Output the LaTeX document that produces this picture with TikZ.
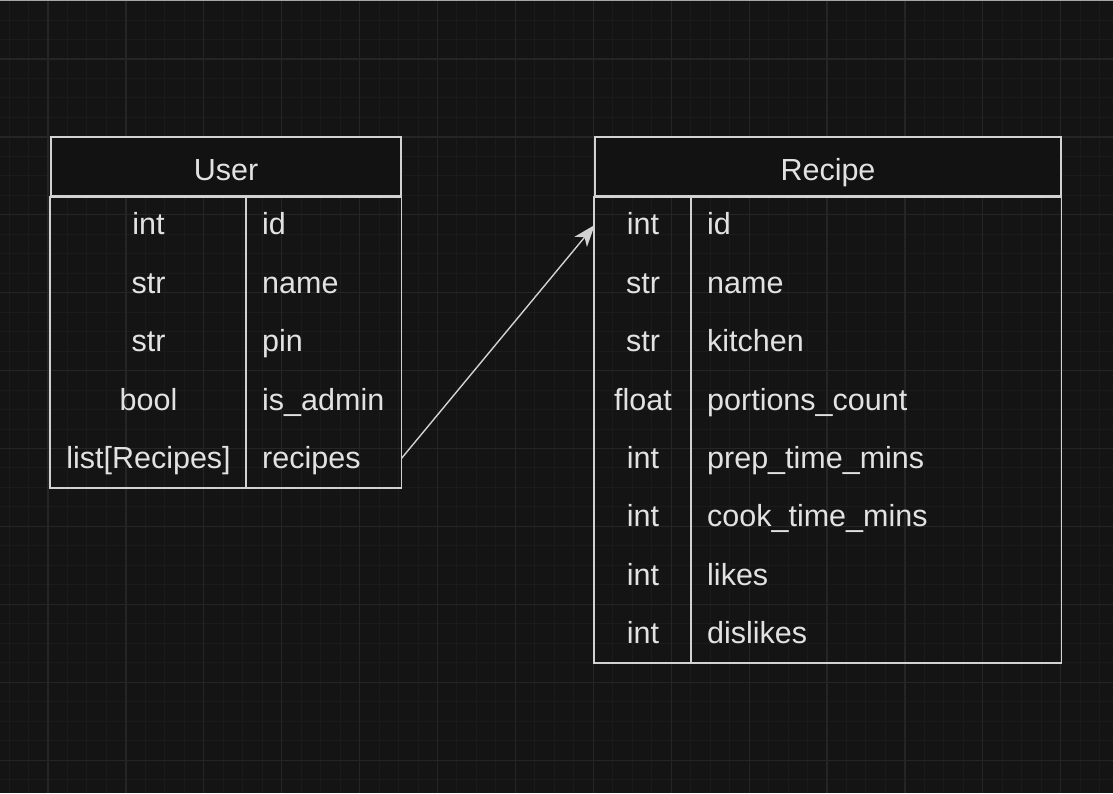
\documentclass[tikz,border=0pt]{standalone}
\usepackage{fontspec}
\setmainfont{Liberation Sans}
\usepackage{xcolor}
\usepackage{tikz}
\usetikzlibrary{arrows.meta,positioning,calc}
\definecolor{canvas}{HTML}{141414}
\definecolor{gridMinor}{HTML}{1B1B1B}
\definecolor{gridMajor}{HTML}{252525}
\definecolor{edge}{HTML}{D2D2D2}
\definecolor{ink}{HTML}{E2E2E2}
\definecolor{headfill}{HTML}{121212}

\begin{document}
\begin{tikzpicture}[x=1pt,y=-1pt,
  font=\fontsize{30.5}{36}\selectfont,
  minorline/.style={gridMinor,line width=1pt},
  majorline/.style={gridMajor,line width=1.2pt},
  frame/.style={edge,line width=1.6pt},
  headcell/.style={draw=edge,line width=1.6pt,fill=headfill,text=ink,inner sep=0pt,
    minimum height=59pt,text height=30pt,text depth=3pt},
  typecell/.style={text=ink,inner sep=0pt,minimum width=#1,minimum height=58.4pt,
    text height=26pt,text depth=6pt},
  fieldcell/.style={text=ink,anchor=west,inner xsep=16pt,inner ysep=0pt,align=left,
    text width=#1,minimum height=58.4pt,text height=26pt,text depth=6pt},
  link/.style={edge,line width=1.4pt,
    -{Stealth[length=22pt,width=16pt,inset=6pt]}}]
\useasboundingbox (0,0) rectangle (1113,793);
% canvas with grid
\fill[canvas] (0,0) rectangle (1113,793);
\begin{scope}
  \clip (0,0) rectangle (1113,793);
  \foreach \k in {-3,...,57}
    \draw[minorline] ({48+19.475*\k},0) -- ({48+19.475*\k},793);
  \foreach \k in {-4,...,38}
    \draw[minorline] (0,{59+19.475*\k}) -- (1113,{59+19.475*\k});
  \foreach \k in {-1,...,14}
    \draw[majorline] ({48+77.9*\k},0) -- ({48+77.9*\k},793);
  \foreach \k in {-1,...,10}
    \draw[majorline] (0,{59+77.9*\k}) -- (1113,{59+77.9*\k});
\end{scope}
\draw[gray!70,line width=1pt] (0,0.5) -- (1113,0.5);
% table User
\begin{scope}
  \node[headcell,minimum width=350pt] (user) at (226,166.5) {User};
  \foreach \t/\f [count=\i] in {int/id,str/name,str/pin,bool/is\_admin,{list[Recipes]}/recipes}{
    \node[typecell=195pt] (ut\i) at (148.5,{166.5+58.4*\i}) {\t};
    \node[fieldcell=123pt] (uf\i) at (246,{166.5+58.4*\i}) {\f};
  }
  \draw[frame] (user.south west) rectangle (uf5.south east);
  \draw[frame] (uf1.north west) -- (uf5.south west);
\end{scope}
% table Recipe
\begin{scope}
  \node[headcell,minimum width=466pt] (recipe) at (828,166.5) {Recipe};
  \foreach \t/\f [count=\i] in {int/id,str/name,str/kitchen,float/portions\_count,
      int/prep\_time\_mins,int/cook\_time\_mins,int/likes,int/dislikes}{
    \node[typecell=96pt] (rt\i) at (643,{166.5+58.4*\i}) {\t};
    \node[fieldcell=338pt] (rf\i) at (691,{166.5+58.4*\i}) {\f};
  }
  \draw[frame] (recipe.south west) rectangle (rf8.south east);
  \draw[frame] (rf1.north west) -- (rf8.south west);
\end{scope}
% relation
\draw[link] (uf5.east) -- (rt1.west);
\end{tikzpicture}
\end{document}
